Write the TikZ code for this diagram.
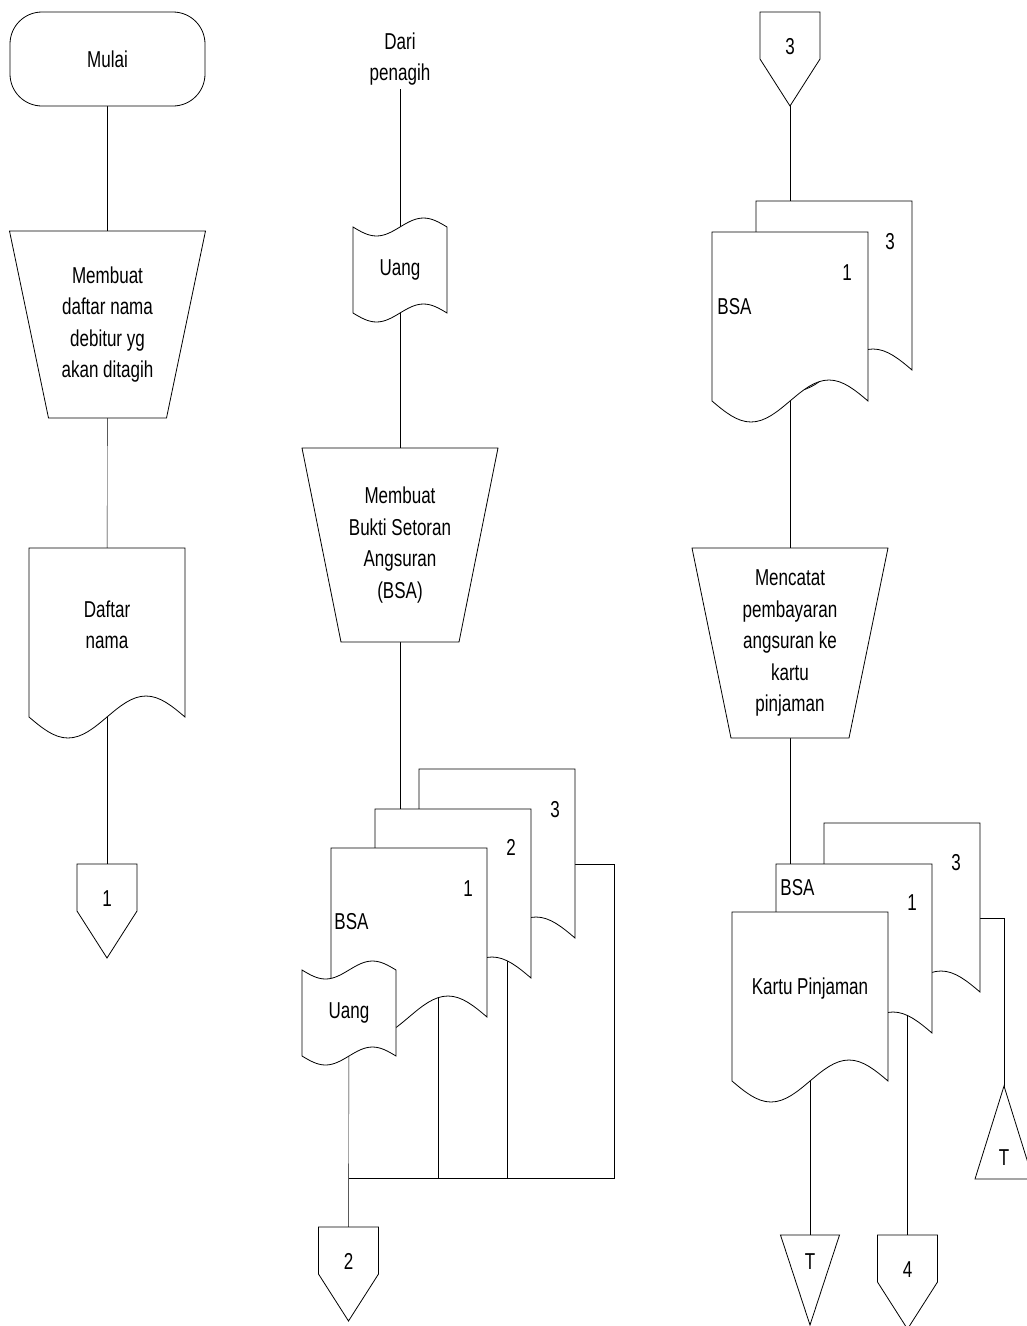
\documentclass[tikz,border=0pt]{standalone}
\usepackage{fontspec}
\setmainfont[FakeStretch=0.74]{Liberation Sans}
\usetikzlibrary{backgrounds}

\newcommand{\dok}[4]{%
  \filldraw[fill=white] (#2,#3) -- ++(0,169) sin ++(39,21) cos ++(39,-21) sin ++(39,-21) cos ++(39,21) -- ++(0,-169) -- cycle;
  \node[isi] (#1) at (#2+78,#3+77) {#4};}
\newcommand{\pita}[4]{%
  \filldraw[fill=white] (#2,#3) sin ++(23.5,9) cos ++(23.5,-9) sin ++(23.5,-9) cos ++(23.5,9) -- ++(0,86)
    sin ++(-23.5,-9) cos ++(-23.5,9) sin ++(-23.5,9) cos ++(-23.5,-9) -- cycle;
  \node[isi] (#1) at (#2+47,#3+43) {#4};}
\newcommand{\konektor}[4]{%
  \filldraw[fill=white] (#2-30,#3) -- ++(60,0) -- ++(0,47) -- ++(-30,47) -- ++(-30,-47) -- cycle;
  \node[minimum width=60pt,minimum height=68pt,anchor=north] (#1) at (#2,#3) {#4};}
\newcommand{\proses}[5]{%
  \filldraw[fill=white] (#2-98,#3) -- (#2+98,#3) -- (#2+59,#4) -- (#2-59,#4) -- cycle;
  \node[isi] (#1) at (#2,#3/2+#4/2) {#5};}

\begin{document}
\begin{tikzpicture}[x=1pt,y=-1pt,line width=0.8pt,
  font=\fontsize{23}{31.5}\selectfont,
  terminal/.style={draw,fill=white,rounded corners=32pt,minimum width=195pt,minimum height=94pt},
  isi/.style={align=center},
  nomor/.style={inner sep=0pt}]
\useasboundingbox (0,0) rectangle (1027,1326);

\node[terminal] (mulai) at (107.5,59) {Mulai};
\proses{buat1}{107.5}{231}{418}{Membuat\\daftar nama\\debitur yg\\akan ditagih}
\dok{daftar}{29}{548}{Daftar\\nama}
\konektor{k1}{107}{864}{1}

\node[isi] (dari) at (400,59) {Dari\\penagih};
\pita{uang1}{353}{227}{Uang}
\proses{buat2}{400}{448}{642}{Membuat\\Bukti Setoran\\Angsuran\\(BSA)}
\dok{bsa3}{419}{769}{}
\dok{bsa2}{375}{809}{}
\dok{bsa1}{331}{848}{}
\pita{uang2}{302}{970}{Uang}
\node[nomor] (lm3) at (555,810) {3};
\node[nomor] (lm2) at (511,847) {2};
\node[nomor] (lm1) at (468,889) {1};
\node[nomor,anchor=west] (lmb) at (334,922) {BSA};
\konektor{k2}{348.5}{1227}{2}

\konektor{k3}{790}{12}{3}
\dok{rbsa3}{756}{201}{}
\dok{rbsa1}{712}{232}{}
\node[nomor] (lr3) at (890,242) {3};
\node[nomor] (lr1) at (847,273) {1};
\node[nomor,anchor=west] (lrb) at (717,307) {BSA};
\proses{catat}{790}{548}{738}{Mencatat\\pembayaran\\angsuran ke\\kartu\\pinjaman}
\dok{kbsa3}{824}{823}{}
\dok{kbsa1}{776}{864}{}
\dok{kartu}{732}{912}{Kartu Pinjaman}
\node[nomor] (lk3) at (956,863) {3};
\node[nomor] (lk1) at (912,903) {1};
\node[nomor,anchor=west] (lkb) at (780,888) {BSA};
\konektor{k4}{907.5}{1235}{4}
\filldraw[fill=white] (780.5,1235) -- (839.5,1235) -- (810,1325) -- cycle;
\node (tt1) at (810,1262) {T};
\filldraw[fill=white] (1004,1086) -- (1033,1179) -- (975,1179) -- cycle;
\node (tt2) at (1004,1158) {T};

\coordinate (j0) at (348.5,1178);
\coordinate (j1) at (438,1178);
\coordinate (j2) at (507,1178);
\coordinate (j3) at (614,1178);
\coordinate (s3) at (614,864);
\coordinate (s4) at (1004,918);

\begin{scope}[on background layer]
\draw (mulai) -- (buat1);
\draw (buat1) -- (daftar);
\draw (daftar) -- (k1);
\draw (dari) -- (uang1);
\draw (uang1) -- (buat2);
\draw (buat2) -- (buat2 |- bsa2);
\draw (bsa1 -| j1) -- (j1);
\draw (bsa2 -| j2) -- (j2);
\draw (bsa3 |- s3) -- (s3) -- (j3) -- (j0);
\draw (uang2) -- (k2);
\draw (k3) -- (k3 |- rbsa3);
\draw (rbsa1) -- (catat);
\draw (catat) -- (catat |- kbsa1);
\draw (kartu) -- (tt1);
\draw (kbsa1 -| k4) -- (k4);
\draw (kbsa3 |- s4) -- (s4) -- (tt2);
\end{scope}
\end{tikzpicture}
\end{document}
